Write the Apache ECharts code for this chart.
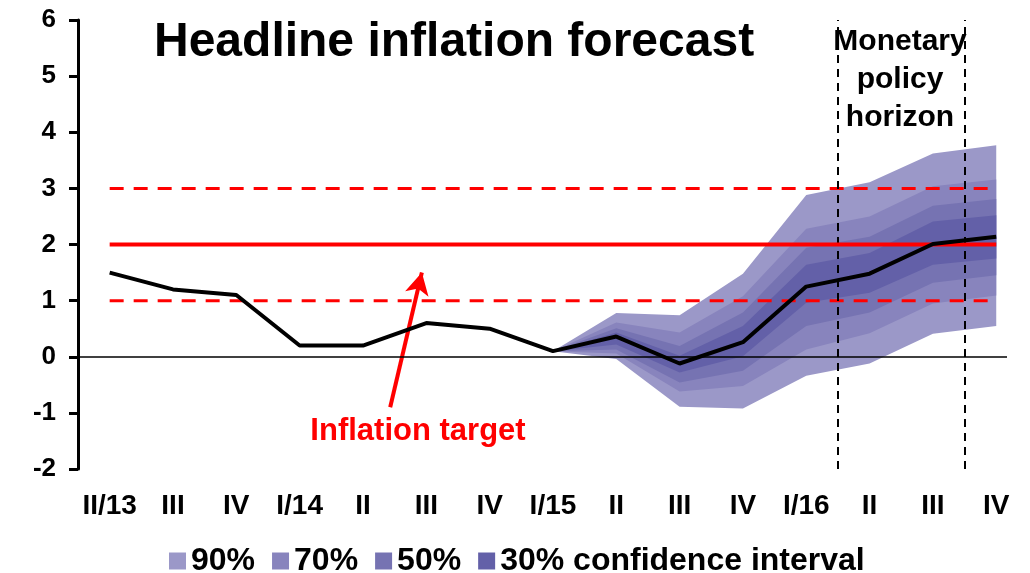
<!DOCTYPE html>
<html>
<head>
<meta charset="utf-8">
<script src="https://cdn.jsdelivr.net/npm/echarts@6/dist/echarts.min.js"></script>
<style>html,body{margin:0;padding:0;background:#fff}#c{width:1030px;height:573px}</style>
</head>
<body>
<div id="c"></div>
<script>
const categories = ['II/13','III','IV','I/14','II','III','IV','I/15','II','III','IV','I/16','II','III','IV'];
const inflation = [1.5, 1.2, 1.1, 0.2, 0.2, 0.6, 0.5, 0.1, 0.36, -0.12, 0.26, 1.25, 1.48, 2.01, 2.14];
const target = [2,2,2,2,2,2,2,2,2,2,2,2,2,2,2];
const upperTol = [3,3,3,3,3,3,3,3,3,3,3,3,3,3,3];
const lowerTol = [1,1,1,1,1,1,1,1,1,1,1,1,1,1,1];
// fan chart bounds from I/15 (index 7) to IV/16
const fanStart = 7;
const lower90 = [0.1, -0.04, -0.89, -0.92, -0.34, -0.12, 0.41, 0.55];
const lower70 = [0.1, 0.06, -0.62, -0.52, 0.13, 0.42, 0.95, 1.09];
const lower50 = [0.1, 0.13, -0.46, -0.25, 0.55, 0.79, 1.32, 1.45];
const lower30 = [0.1, 0.22, -0.28, 0.01, 0.96, 1.14, 1.64, 1.75];
const upper30 = [0.1, 0.43, 0.02, 0.55, 1.64, 1.85, 2.41, 2.52];
const upper50 = [0.1, 0.51, 0.19, 0.79, 1.94, 2.14, 2.69, 2.81];
const upper70 = [0.1, 0.61, 0.43, 1.08, 2.28, 2.50, 3.04, 3.16];
const upper90 = [0.1, 0.78, 0.74, 1.48, 2.88, 3.11, 3.62, 3.77];
const yTicks = [-2,-1,0,1,2,3,4,5,6];
const horizonBounds = [11.5, 13.5];
const legendNames = ['90%','70%','50%','30% confidence interval'];
const bandColors = ['#9b98c8','#8884bd','#7673b2','#6360a8'];

const FONT = 'Arial, "Liberation Sans", sans-serif';
const pts = arr => arr.map((v,i)=>[i,v]);

function band(name, upper, lower, color, z){
  return {
    name: name, type:'custom', silent:true, z:z,
    itemStyle:{color: color},
    data:[[fanStart, 0]],
    encode:{x:0, y:1},
    renderItem: function(params, api){
      const points = [];
      upper.forEach((v,i)=>points.push(api.coord([fanStart+i, v])));
      for (let i = lower.length-1; i >= 0; i--) points.push(api.coord([fanStart+i, lower[i]]));
      return {type:'polygon', shape:{points: points}, style:{fill: color}};
    }
  };
}

const series = [
  band('90%', upper90, lower90, bandColors[0], 2),
  band('70%', upper70, lower70, bandColors[1], 2),
  band('50%', upper50, lower50, bandColors[2], 2),
  band('30% confidence interval', upper30, lower30, bandColors[3], 2),
  {
    name:'tolUp', type:'line', data: pts(upperTol), symbol:'none', silent:true,
    lineStyle:{color:'#ff0000', width:3, type:[14,10]}, z:4
  },
  {
    name:'tolLow', type:'line', data: pts(lowerTol), symbol:'none', silent:true,
    lineStyle:{color:'#ff0000', width:3, type:[14,10]}, z:4
  },
  {
    name:'target', type:'line', data: pts(target), symbol:'none', silent:true,
    lineStyle:{color:'#ff0000', width:4}, z:5,
    markLine:{
      silent:true, symbol:['none','arrow'], symbolSize:[18,22],
      lineStyle:{color:'#ff0000', width:4, type:'solid'},
      label:{show:false},
      data:[[{coord:[4.43,-0.9]},{coord:[4.93,1.5]}]]
    }
  },
  {
    name:'inflation', type:'line', data: pts(inflation), symbol:'none', silent:true,
    lineStyle:{color:'#000', width:4}, z:6,
    markLine:{
      silent:true, symbol:'none', label:{show:false},
      lineStyle:{color:'#000', width:2, type:[8,6]},
      data: horizonBounds.map(v=>({xAxis:v}))
    }
  },
  {
    name:'zero', type:'line', data:[], silent:true, z:3,
    markLine:{
      silent:true, symbol:'none', label:{show:false},
      lineStyle:{color:'#000', width:1.5, type:'solid'},
      data:[{yAxis:0}]
    }
  }
];

const chart = echarts.init(document.getElementById('c'), null, {renderer:'canvas'});
chart.setOption({
  animation:false,
  backgroundColor:'#fff',
  title:{
    text:'Headline inflation forecast', left:149, top:14,
    textStyle:{fontFamily:FONT, fontWeight:'bold', fontSize:48, color:'#000'}
  },
  legend:{
    data: legendNames, top:540, left:164,
    icon:'rect', itemWidth:17, itemHeight:17, itemGap:17,
    textStyle:{fontFamily:FONT, fontWeight:'bold', fontSize:32, color:'#000', padding:[0,0,0,0]},
    selectedMode:false
  },
  grid:{left:78, right:23, top:20, bottom:104},
  xAxis:{
    type:'value', min:-0.5, max:14.17,
    axisLine:{show:false}, axisTick:{show:false}, splitLine:{show:false},
    axisLabel:{
      customValues: categories.map((c,i)=>i),
      formatter: v => categories[Math.round(v)] || '',
      fontFamily:FONT, fontWeight:'bold', fontSize:28, color:'#000', margin:23
    }
  },
  yAxis:{
    type:'value', min:-2, max:6, interval:1,
    axisLine:{show:true, onZero:false, lineStyle:{color:'#000', width:3}},
    axisTick:{show:true, length:9, lineStyle:{color:'#000', width:3}},
    splitLine:{show:false},
    axisLabel:{
      customValues: yTicks,
      fontFamily:FONT, fontWeight:'bold', fontSize:26, color:'#000', margin:22
    }
  },
  graphic:[
    {type:'text', x:900, y:42, style:{text:'Monetary', font:'bold 30px '+FONT, fill:'#000', align:'center', verticalAlign:'middle'}, z:10},
    {type:'text', x:900, y:80, style:{text:'policy', font:'bold 30px '+FONT, fill:'#000', align:'center', verticalAlign:'middle'}, z:10},
    {type:'text', x:900, y:118, style:{text:'horizon', font:'bold 30px '+FONT, fill:'#000', align:'center', verticalAlign:'middle'}, z:10},
    {type:'text', x:418, y:431, style:{text:'Inflation target', font:'bold 31px '+FONT, fill:'#ff0000', align:'center', verticalAlign:'middle'}, z:10}
  ],
  series: series
});
</script>
</body>
</html>
